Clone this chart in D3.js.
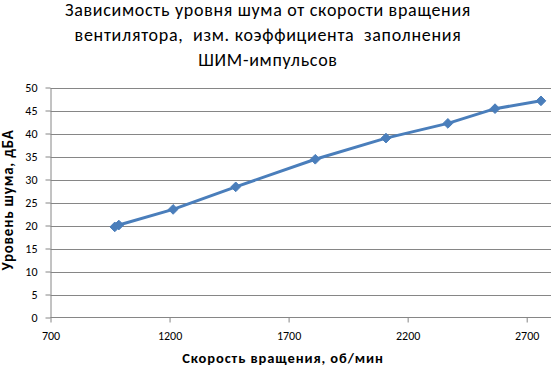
<!DOCTYPE html>
<html><head><meta charset="utf-8">
<script src="https://cdn.jsdelivr.net/npm/d3@7"></script>
<style>body{margin:0;background:#fff}svg{display:block}</style>
</head><body>
<script>
const titleLines = ["Зависимость уровня шума от скорости вращения", "вентилятора,  изм. коэффициента  заполнения", "ШИМ-импульсов"];
const xTitle = "Скорость вращения, об/мин";
const yTitle = "Уровень шума, дБА";
const speeds = [970, 987, 1215, 1478, 1812, 2109, 2369, 2567, 2760];
const noise = [19.7, 20.1, 23.5, 28.4, 34.4, 39.0, 42.2, 45.4, 47.1];
const xTicks = [700, 1200, 1700, 2200, 2700];
const yTicks = [0, 5, 10, 15, 20, 25, 30, 35, 40, 45, 50];

const W = 551, H = 368;
const font = "Carlito, Calibri, 'Open Sans', sans-serif";
const svg = d3.select("body").append("svg").attr("width", W).attr("height", H);
const x = d3.scaleLinear().domain([700, 2800]).range([50.5, 550.5]);
const y = d3.scaleLinear().domain([0, 50]).range([317.5, 87.5]);

// gridlines
svg.append("g").selectAll("line").data(yTicks.slice(1)).join("line")
  .attr("x1", 50.5).attr("x2", 551).attr("y1", d => Math.round(y(d)) + 0.5).attr("y2", d => Math.round(y(d)) + 0.5)
  .attr("stroke", "#868686").attr("stroke-width", 1);

const yAxis = svg.append("g").attr("transform", "translate(50.5,0)")
  .call(d3.axisLeft(y).tickValues(yTicks).tickFormat(d3.format("d")).tickSize(5).tickSizeOuter(0).tickPadding(8));
const xAxis = svg.append("g").attr("transform", "translate(0,317.5)")
  .call(d3.axisBottom(x).tickValues(xTicks).tickFormat(d3.format("d")).tickSize(5).tickSizeOuter(0).tickPadding(9));
[yAxis, xAxis].forEach(a => {
  a.select(".domain").attr("stroke", "#868686");
  a.selectAll(".tick line").attr("stroke", "#868686");
  a.selectAll("text").attr("font-family", font).attr("font-size", 12).attr("fill", "#000");
});
xAxis.select(".domain").attr("d", "M50.5,0H551");

const line = d3.line().x((d, i) => x(speeds[i])).y(d => y(d));
svg.append("path").datum(noise).attr("d", line).attr("fill", "none")
  .attr("stroke", "#4a7ebb").attr("stroke-width", 3).attr("stroke-linejoin", "round");
svg.append("g").selectAll("path").data(noise).join("path")
  .attr("transform", (d, i) => `translate(${x(speeds[i])},${y(d)})`)
  .attr("d", d3.symbol(d3.symbolDiamond2, 60)())
  .attr("fill", "#4a7ebb").attr("stroke", "#4a7ebb").attr("stroke-width", 1);

svg.append("g").selectAll("text").data(titleLines).join("text")
  .attr("x", 268).attr("y", (d, i) => 16 + i * 25).attr("text-anchor", "middle")
  .style("white-space", "pre").attr("xml:space", "preserve")
  .attr("font-family", font).attr("font-size", 18).attr("letter-spacing", 0.7).attr("fill", "#000").text(d => d);

svg.append("text").attr("x", 283).attr("y", 363).attr("text-anchor", "middle")
  .attr("font-family", font).attr("font-size", 14.5).attr("letter-spacing", 0.9).attr("font-weight", "bold").text(xTitle);
svg.append("text").attr("transform", "translate(13,200) rotate(-90)").attr("text-anchor", "middle")
  .attr("font-family", font).attr("font-size", 15).attr("letter-spacing", 0.8).attr("font-weight", "bold").text(yTitle);
</script>
</body></html>
